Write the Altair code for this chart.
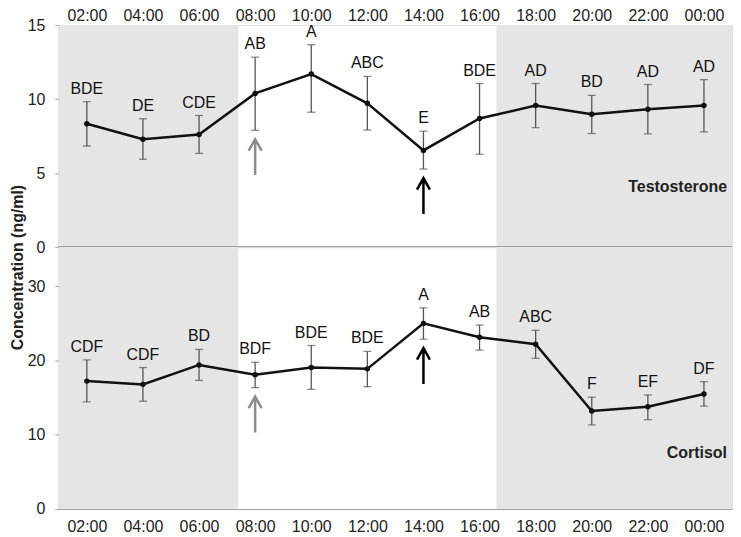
import altair as alt
import pandas as pd

# ---- data ----
hours = [2, 4, 6, 8, 10, 12, 14, 16, 18, 20, 22, 24]

t_mean = [8.33, 7.29, 7.60, 10.38, 11.69, 9.71, 6.53, 8.69, 9.56, 8.98, 9.31, 9.56]
t_hi   = [9.83, 8.67, 8.89, 12.83, 13.67, 11.53, 7.83, 11.05, 11.05, 10.25, 10.98, 11.31]
t_lo   = [6.83, 5.93, 6.33, 7.89, 9.11, 7.91, 5.27, 6.27, 8.07, 7.67, 7.65, 7.78]
t_lab  = ["BDE", "DE", "CDE", "AB", "A", "ABC", "E", "BDE", "AD", "BD", "AD", "AD"]

c_mean = [17.24, 16.80, 19.42, 18.09, 19.07, 18.89, 25.02, 23.16, 22.22, 13.20, 13.78, 15.51]
c_hi   = [20.09, 19.07, 21.51, 19.78, 22.04, 21.24, 27.11, 24.80, 24.09, 15.07, 15.38, 17.16]
c_lo   = [14.44, 14.53, 17.33, 16.36, 16.13, 16.49, 22.89, 21.42, 20.31, 11.33, 12.04, 13.87]
c_lab  = ["CDF", "CDF", "BD", "BDF", "BDE", "BDE", "A", "AB", "ABC", "F", "EF", "DF"]

# dark periods (hours of day, 25 = 01:00 next day)
shade_start = [1.0, 16.6]
shade_end   = [7.4, 25.0]

# arrows (sampling events)
arrow_hours  = [8, 14]
arrow_colors = ["#8c8c8c", "#000000"]

tick_hours = hours
FONT = "Liberation Sans"
W = 676
H_TOP = 223
H_BOT = 263

ARROW = "M0,1L0,-1M-0.36,-0.36L0,-1L0.36,-0.36"

xscale = alt.Scale(domain=[1, 25], nice=False, zero=False)
label_expr = "(datum.value % 24 < 10 ? '0' : '') + (datum.value % 24) + ':00'"

shade_df = pd.DataFrame({"start": shade_start, "end": shade_end})


def panel(mean, hi, lo, lab, ymax, yticks, name, name_y, top):
    df = pd.DataFrame({"h": hours, "m": mean, "hi": hi, "lo": lo, "lab": lab})
    arr = pd.DataFrame({"h": arrow_hours, "col": arrow_colors}).merge(df, on="h")

    if top:
        xaxis = alt.Axis(orient="top", values=tick_hours, labelExpr=label_expr,
                         domain=False, ticks=False, tickSize=0, grid=False,
                         labelPadding=2, labelFontSize=16, labelColor="#222",
                         labelFont=FONT, title=None)
        yaxis = alt.Axis(values=yticks, grid=False, domainColor="#a0a0a0",
                         tickColor="#a0a0a0", tickSize=4, labelPadding=10,
                         labelFontSize=16, labelColor="#222", labelFont=FONT,
                         title="Concentration (ng/ml)", titleFont=FONT,
                         titleFontSize=16, titleFontWeight="bold",
                         titleColor="#222", titlePadding=2,
                         titleY=(H_TOP + H_BOT) / 2)
    else:
        xaxis = alt.Axis(orient="bottom", values=tick_hours, labelExpr=label_expr,
                         domain=True, domainColor="#a0a0a0", ticks=False,
                         tickSize=0, grid=False, labelPadding=10,
                         labelFontSize=16, labelColor="#222", labelFont=FONT,
                         title=None)
        yaxis = alt.Axis(values=yticks, grid=False, domainColor="#a0a0a0",
                         tickColor="#a0a0a0", tickSize=4, labelPadding=10,
                         labelFontSize=16, labelColor="#222", labelFont=FONT,
                         title=None)

    yscale = alt.Scale(domain=[0, ymax], nice=False, zero=True)
    X = alt.X("h:Q", scale=xscale, axis=xaxis)

    shade = alt.Chart(shade_df).mark_rect(color="#e5e5e5").encode(
        x=alt.X("start:Q", scale=xscale, axis=xaxis), x2="end:Q")

    base = alt.Chart(df)
    Y = alt.Y("m:Q", scale=yscale, axis=yaxis)

    err = base.mark_rule(color="#555555", strokeWidth=1.3).encode(
        x=X, y=alt.Y("lo:Q", scale=yscale, axis=yaxis), y2="hi:Q")
    cap_hi = base.mark_tick(orient="horizontal", size=8, thickness=1.3,
                            color="#555555").encode(x=X, y=alt.Y("hi:Q", scale=yscale))
    cap_lo = base.mark_tick(orient="horizontal", size=8, thickness=1.3,
                            color="#555555").encode(x=X, y=alt.Y("lo:Q", scale=yscale))
    line = base.mark_line(color="#111111", strokeWidth=2.5).encode(x=X, y=Y)
    pts = base.mark_circle(size=30, color="#111111", opacity=1).encode(x=X, y=Y)
    txt = base.mark_text(fontSize=16, font=FONT, color="#111111", dy=-13,
                         baseline="middle").encode(
        x=X, y=alt.Y("hi:Q", scale=yscale), text="lab:N")
    arrows = alt.Chart(arr).mark_point(shape=ARROW, size=1296, filled=False,
                                       strokeWidth=2.5, yOffset=27, opacity=1).encode(
        x=X, y=alt.Y("lo:Q", scale=yscale),
        stroke=alt.Stroke("col:N", scale=None))
    tag = alt.Chart(pd.DataFrame({"t": [name]})).mark_text(
        fontSize=16, font=FONT, fontWeight="bold", color="#222", align="right",
        baseline="middle", dx=-5).encode(
        x=alt.datum(25, scale=xscale), y=alt.datum(name_y, scale=yscale), text="t:N")

    layers = [shade]
    if top:
        zero = alt.Chart(df).mark_rule(color="#a0a0a0", strokeWidth=1).encode(
            y=alt.datum(0, scale=yscale))
        layers.append(zero)
    layers += [err, cap_hi, cap_lo, line, pts, txt, arrows, tag]
    return alt.layer(*layers).properties(width=W, height=H_TOP if top else H_BOT)


top = panel(t_mean, t_hi, t_lo, t_lab, 15, [0, 5, 10, 15], "Testosterone", 4.05, True)
bot = panel(c_mean, c_hi, c_lo, c_lab, 35.3, [0, 10, 20, 30], "Cortisol", 7.6, False)

chart = alt.vconcat(top, bot, spacing=0, bounds="flush").resolve_scale(
    y="independent").properties(padding={"top": -3, "left": 0, "right": 0, "bottom": 0}
).configure_view(stroke=None).configure(font=FONT)

chart.save("out.html", embed_options={"renderer": "svg", "actions": False})
